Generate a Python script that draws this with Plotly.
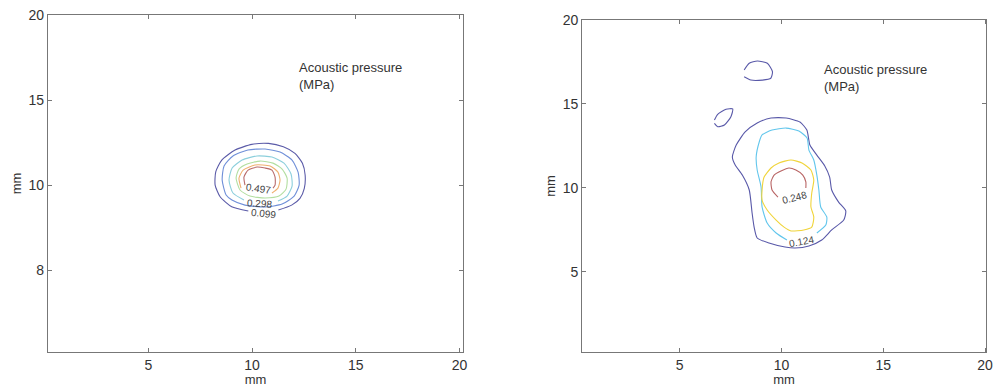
import plotly.graph_objects as go

# ---------------- data (mm) ----------------
# Left panel: contour lines of acoustic pressure (MPa)
left_levels = [0.099, 0.199, 0.298, 0.398, 0.497, 0.596]
left_colors = ["#5b5ba8", "#6f8fd8", "#8ccfdc", "#b2dea0", "#f0b070", "#b86a6a"]
left_x = [
    [9.82, 9.02, 8.46, 8.22, 8.25, 8.54, 9.18, 9.99, 10.79, 11.51, 12.07, 12.43, 12.56, 12.52, 12.31, 11.91, 11.27],
    [8.75, 8.56, 8.65, 9.08, 9.80, 10.63, 11.35, 11.93, 12.22, 12.27, 12.03, 11.45, 10.63, 9.66, 9.03, 8.75],
    [9.61, 9.08, 8.89, 9.04, 9.52, 10.24, 10.96, 11.54, 11.88, 11.93, 11.69, 11.25],
    [9.42, 9.23, 9.37, 9.76, 10.39, 11.01, 11.45, 11.69, 11.64, 11.30, 10.63, 9.90, 9.42],
    [9.47, 9.37, 9.57, 10.14, 10.87, 11.25, 11.35, 11.25, 10.96],
    [9.66, 9.61, 9.81, 10.24, 10.63, 10.96, 11.11, 11.11, 11.01],
]
left_y = [
    [8.47, 8.72, 9.31, 10.00, 10.78, 11.47, 12.06, 12.39, 12.45, 12.25, 11.86, 11.28, 10.59, 9.81, 9.22, 8.82, 8.53],
    [9.41, 10.29, 11.12, 11.71, 12.06, 12.12, 11.94, 11.47, 10.76, 10.00, 9.35, 8.88, 8.71, 8.82, 9.12, 9.41],
    [9.12, 9.53, 10.29, 11.00, 11.47, 11.71, 11.65, 11.29, 10.65, 9.94, 9.35, 9.06],
    [9.71, 10.41, 10.94, 11.24, 11.41, 11.29, 10.94, 10.41, 9.76, 9.35, 9.24, 9.35, 9.71],
    [9.82, 10.41, 10.88, 11.18, 11.12, 10.76, 10.29, 9.82, 9.53],
    [10.00, 10.47, 10.88, 11.06, 11.00, 10.88, 10.47, 10.00, 9.82],
]
left_labels = ["0.497", "0.298", "0.099"]
left_label_x = [10.30, 10.34, 10.53]
left_label_y = [9.82, 8.90, 8.30]
left_label_angle = [8, 4, 6]

# Right panel
right_levels = [0.062, 0.062, 0.062, 0.124, 0.186, 0.248]
right_colors = ["#5858a8", "#5858a8", "#5858a8", "#62c6ec", "#f0d43a", "#b86464"]
right_x = [
    [8.17, 8.42, 8.82, 9.31, 9.56, 9.48, 9.07, 8.50, 8.17],
    [6.71, 6.87, 7.28, 7.61, 7.52, 7.20, 6.87, 6.71],
    [7.59, 7.78, 8.22, 8.81, 9.49, 10.23, 10.91, 11.25, 11.40, 11.74, 12.13, 12.37, 12.47, 12.81, 13.16,
     13.06, 12.47, 11.98, 11.35, 10.67, 10.18, 9.39, 8.81, 8.66, 8.56, 8.42, 8.08, 7.73, 7.59],
    [11.74, 12.18, 12.23, 11.93, 11.84, 11.74, 11.59, 11.35, 11.26, 10.86, 10.23, 9.54, 9.05, 8.91, 8.76,
     8.81, 9.00, 9.05, 9.30, 9.74, 10.27],
    [9.05, 9.15, 9.49, 9.88, 10.47, 11.01, 11.45, 11.59, 11.49, 11.45, 11.59, 11.49, 11.10, 10.47, 10.13,
     9.74, 9.30, 9.05, 9.05],
    [11.20, 11.20, 11.05, 10.71, 10.37, 9.98, 9.64, 9.49, 9.54, 9.83],
]
right_y = [
    [17.02, 17.42, 17.56, 17.42, 16.92, 16.53, 16.42, 16.42, 16.62, 17.02],
    [14.04, 14.38, 14.68, 14.70, 14.24, 13.74, 13.64, 13.84],
    [11.84, 12.55, 13.33, 13.86, 14.16, 14.16, 13.92, 13.44, 12.55, 11.95, 11.30, 10.64, 9.87, 9.15, 8.62,
     8.08, 7.49, 6.89, 6.53, 6.41, 6.47, 6.71, 7.01, 7.66, 8.50, 9.87, 10.76, 11.36, 11.84],
    [7.31, 7.78, 8.26, 8.86, 9.87, 10.76, 11.66, 12.25, 12.97, 13.38, 13.56, 13.44, 13.15, 12.73, 11.84,
     11.06, 10.05, 8.86, 7.90, 7.31, 6.89],
    [9.87, 10.64, 11.18, 11.48, 11.66, 11.48, 11.06, 10.46, 9.69, 8.86, 8.26, 7.66, 7.49, 7.43, 7.66,
     8.08, 8.68, 9.27, 9.87],
    [9.99, 10.35, 10.76, 11.06, 11.18, 11.00, 10.76, 10.35, 9.87, 9.45],
]
right_labels = ["0.248", "0.124"]
right_label_x = [10.66, 11.01]
right_label_y = [9.40, 6.80]
right_label_angle = [-14, -10]

x_tick_vals = [5, 10, 15, 20]
x_tick_text = ["5", "10", "15", "20"]
left_y_tick_vals = [5, 10, 15, 20]
left_y_tick_text = ["8", "10", "15", "20"]
right_y_tick_vals = [5, 10, 15, 20]
right_y_tick_text = ["5", "10", "15", "20"]
legend_title = "Acoustic pressure<br>(MPa)"
axis_title = "mm"

# ---------------- figure ----------------
fig = go.Figure()
for xs, ys, c, lv in zip(left_x, left_y, left_colors, left_levels):
    fig.add_trace(go.Scatter(x=xs, y=ys, mode="lines", line=dict(color=c, width=1.1, shape="spline", smoothing=0.6),
                             name=str(lv), hoverinfo="skip", xaxis="x", yaxis="y"))
for xs, ys, c, lv in zip(right_x, right_y, right_colors, right_levels):
    fig.add_trace(go.Scatter(x=xs, y=ys, mode="lines", line=dict(color=c, width=1.1, shape="spline", smoothing=0.6),
                             name=str(lv), hoverinfo="skip", xaxis="x2", yaxis="y2"))

FONT = "Liberation Sans, Arial, sans-serif"
axis_common = dict(showgrid=False, zeroline=False, showline=True, linecolor="#777", linewidth=1,
                   ticks="inside", ticklen=4, tickcolor="#777", mirror="ticks", automargin=False,
                   ticklabeloverflow="allow",
                   tickfont=dict(family=FONT, size=14, color="#333"))

fig.update_layout(
    width=995, height=387,
    margin=dict(l=0, r=0, t=0, b=0),
    paper_bgcolor="white", plot_bgcolor="white",
    showlegend=False,
    font=dict(family=FONT, color="#333"),
    xaxis=dict(domain=[0.0482, 0.4653], range=[0.16, 20.17], tickvals=x_tick_vals, ticktext=x_tick_text,
               title=dict(text=axis_title, font=dict(size=13), standoff=0), anchor="y", **axis_common),
    yaxis=dict(domain=[0.0904, 0.9612], range=[0.18, 20], tickvals=left_y_tick_vals, ticktext=left_y_tick_text,
               title=dict(text=axis_title, font=dict(size=13), standoff=4), anchor="x", **axis_common),
    xaxis2=dict(domain=[0.585, 0.991], range=[0.21, 20.05], tickvals=x_tick_vals, ticktext=x_tick_text,
                title=dict(text=axis_title, font=dict(size=13), standoff=0), anchor="y2", **axis_common),
    yaxis2=dict(domain=[0.0904, 0.9483], range=[0.215, 20], tickvals=right_y_tick_vals, ticktext=right_y_tick_text,
                title=dict(text=axis_title, font=dict(size=13), standoff=4), anchor="x2", **axis_common),
)

annotations = []
for t, x, y, a in zip(left_labels, left_label_x, left_label_y, left_label_angle):
    annotations.append(dict(text=t, x=x, y=y, xref="x", yref="y", showarrow=False, textangle=a,
                            font=dict(family=FONT, size=10, color="#444")))
for t, x, y, a in zip(right_labels, right_label_x, right_label_y, right_label_angle):
    annotations.append(dict(text=t, x=x, y=y, xref="x2", yref="y2", showarrow=False, textangle=a,
                            font=dict(family=FONT, size=10, color="#444")))
annotations.append(dict(text=legend_title, x=12.17, y=17.5, xref="x", yref="y", xanchor="left", yanchor="top",
                        showarrow=False, align="left", font=dict(family=FONT, size=13, color="#333")))
annotations.append(dict(text=legend_title, x=11.99, y=17.62, xref="x2", yref="y2", xanchor="left", yanchor="top",
                        showarrow=False, align="left", font=dict(family=FONT, size=13, color="#333")))
fig.update_layout(annotations=annotations)

fig.write_html("out.html", config={"displayModeBar": False},
               post_script="document.body.style.margin='0';document.body.style.overflow='hidden';")
